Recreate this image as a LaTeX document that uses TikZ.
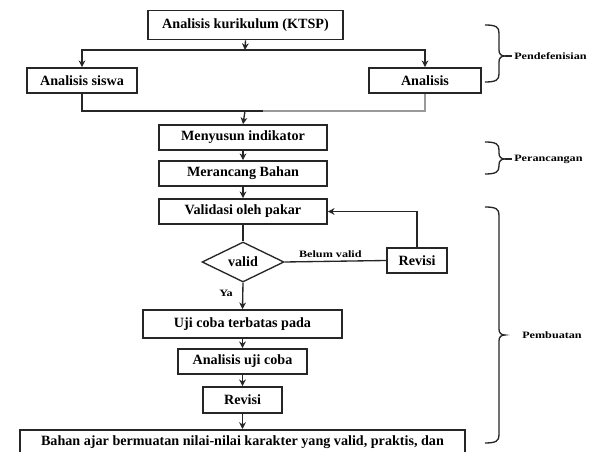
\documentclass[tikz,border=0pt]{standalone}
\usepackage{fontspec}
\setmainfont{Liberation Serif}
\newfontfamily\smallf[FakeStretch=1.25]{Liberation Serif}
\usetikzlibrary{arrows.meta,shapes.geometric}
\tikzset{
  ln/.style={line width=1pt, black!85},
  arr/.style={ln, -{Stealth[length=5pt,width=5pt,inset=1.5pt]}},
  box/.style={draw=black!85, line width=1.2pt, fill=white, inner sep=0pt,
    font=\fontsize{10.6pt}{12pt}\selectfont\bfseries, text=black},
  lab/.style={font=\smallf\fontsize{7.3pt}{8pt}\selectfont\bfseries, text=black, inner sep=0pt},
}
\newcommand{\myBrace}[3]{%
  \draw[ln] (485,#1) .. controls (496,#1) and (499,#1+2) .. (499,#1+8) -- (499,#2-6)
    .. controls (499,#2-2) and (501,#2) .. (505,#2)
    .. controls (501,#2) and (499,#2+2) .. (499,#2+6) -- (499,#3-8)
    .. controls (499,#3-2) and (496,#3) .. (485,#3);}
\begin{document}
\begin{tikzpicture}[x=0.75pt,y=-0.75pt]
\clip (0,0) rectangle (594,452);
\fill[white] (0,0) rectangle (594,452);
% nodes
\node[box, minimum width=195*0.75pt, minimum height=29*0.75pt] (top) at (245.5,25) {Analisis kurikulum (KTSP)};
\node[box, minimum width=110*0.75pt, minimum height=25*0.75pt] (siswa) at (82,80.5) {Analisis siswa};
\node[box, minimum width=112*0.75pt, minimum height=25*0.75pt] (anal) at (425,80.5) {Analisis};
\node[box, minimum width=168*0.75pt, minimum height=25*0.75pt] (menyusun) at (243,137.5) {Menyusun indikator};
\node[box, minimum width=168*0.75pt, minimum height=25*0.75pt] (merancang) at (243,173.5) {Merancang Bahan};
\node[box, minimum width=168*0.75pt, minimum height=25*0.75pt] (validasi) at (243,211.5) {Validasi oleh pakar};
\node[box, diamond, line width=1pt, aspect=2.05, minimum width=82*0.75pt, minimum height=40*0.75pt] (valid) at (243,262) {valid};
\node[box, minimum width=60*0.75pt, minimum height=25*0.75pt] (revisiA) at (417,260.5) {Revisi};
\node[box, minimum width=199*0.75pt, minimum height=28*0.75pt] (uji) at (242.5,324) {Uji coba terbatas pada};
\node[box, minimum width=129*0.75pt, minimum height=25*0.75pt] (analuji) at (242.5,361.5) {Analisis uji coba};
\node[box, minimum width=79*0.75pt, minimum height=26*0.75pt] (revisiB) at (242.5,400) {Revisi};
\node[box, anchor=north, minimum width=445*0.75pt, inner ysep=3pt, text height=9pt, text depth=30pt] (final) at (242.5,429)
  {Bahan ajar bermuatan nilai-nilai karakter yang valid, praktis, dan};
% connectors
\coordinate (j1) at (245,50);
\draw[arr] (top.south) -- (j1);
\draw[arr] (j1) -| (siswa.north);
\draw[arr] (j1) -| (anal.north);
\coordinate (j2) at (245,111);
\coordinate (j3) at (263,111);
\draw[ln] (siswa.south) |- (j3);
\draw[ln, black!40] (j3) -| (anal.south);
\draw[arr] (j2) -- (menyusun.north);
\draw[arr] (menyusun) -- (merancang);
\draw[arr] (merancang) -- (validasi);
\draw[ln] (validasi) -- (valid);
\draw[ln] (valid.east) -- node[lab, above=2pt, pos=0.45] {Belum valid} (revisiA.west);
\draw[arr] (revisiA.north) |- (validasi.east);
\draw[arr] (valid.south) -- node[lab, left=7pt, pos=0.4] {Ya} (uji.north);
\draw[arr] (uji) -- (analuji);
\draw[arr] (analuji) -- (revisiB);
\draw[arr] (revisiB) -- (final);
% braces
\myBrace{25}{56}{82}
\draw[ln] (505,56) -- (512,56);
\node[lab, anchor=west] (pend) at (514,56) {Pendefenisian};
\myBrace{142}{159}{174}
\draw[ln] (505,159) -- (512,159);
\node[lab, anchor=west] (peran) at (514,159) {Perancangan};
\myBrace{207}{335}{443}
\node[lab, anchor=west] (pemb) at (522,335) {Pembuatan};
\end{tikzpicture}
\end{document}
